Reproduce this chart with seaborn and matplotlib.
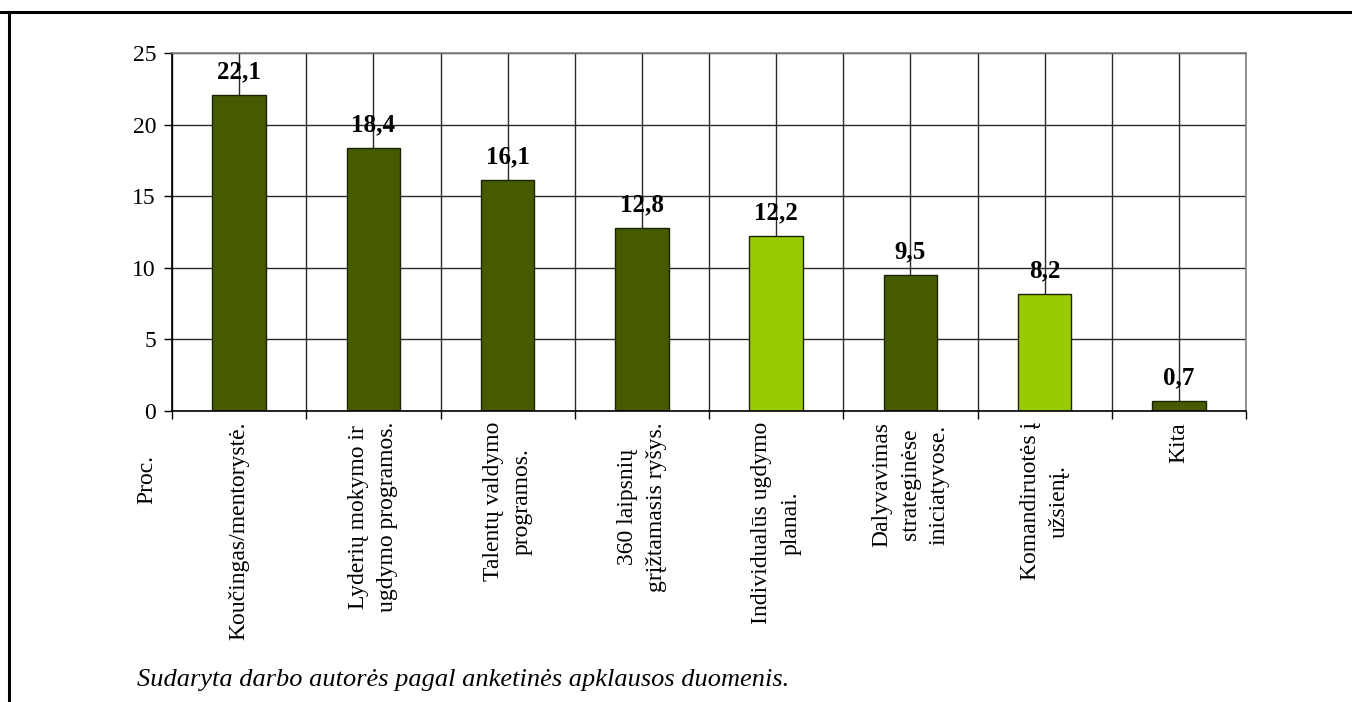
import matplotlib
matplotlib.use("Agg")
import matplotlib.pyplot as plt
from matplotlib.lines import Line2D
from matplotlib.ticker import FixedLocator, MultipleLocator
import seaborn as sns
import pandas as pd

# Survey results: share of respondents (%) per development method
categories = [
    "Koučingas/mentorystė.",
    "Lyderių mokymo ir\nugdymo programos.",
    "Talentų valdymo\nprogramos.",
    "360 laipsnių\ngrįžtamasis ryšys.",
    "Individualūs ugdymo\nplanai.",
    "Dalyvavimas\nstrateginėse\niniciatyvose.",
    "Komandiruotės į\nužsienį.",
    "Kita",
]
values = [22.1, 18.4, 16.1, 12.8, 12.2, 9.5, 8.2, 0.7]
bar_colors = ["#465b00", "#465b00", "#465b00", "#465b00",
              "#99cc00", "#465b00", "#99cc00", "#465b00"]
y_label = "Proc."
source_note = "Sudaryta darbo autorės pagal anketinės apklausos duomenis."

sns.set_theme(style="white")
plt.rcParams["font.family"] = ["Liberation Serif", "DejaVu Serif"]
plt.rcParams.update({"text.color": "black", "xtick.color": "black",
                     "ytick.color": "black", "axes.labelcolor": "black"})

df = pd.DataFrame({"category": categories, "value": values})

W, H = 1352, 702
fig = plt.figure(figsize=(W / 100, H / 100), dpi=100)
fig.patch.set_facecolor("white")
ax = fig.add_axes([172 / W, 1 - 411 / H, (1246 - 172) / W, (411 - 53) / H])

sns.barplot(data=df, x="category", y="value", hue="category",
            palette=bar_colors, legend=False, width=0.4,
            edgecolor="#1a2200", linewidth=1.0, saturation=1, ax=ax)

ax.set_xlim(-0.5, len(categories) - 0.5)
ax.set_ylim(0, 25)
ax.yaxis.set_major_locator(MultipleLocator(5))
ax.set_xlabel("")
ax.set_ylabel("")

# Category boundaries as minor ticks, centres as labelled major ticks
ax.xaxis.set_minor_locator(FixedLocator([i - 0.5 for i in range(len(categories) + 1)]))
ax.set_xticks(range(len(categories)))
ax.set_xticklabels(categories, rotation=90, ha="center", va="top",
                   multialignment="center", linespacing=1.5, fontsize=17)
ax.tick_params(axis="x", which="major", length=0, pad=8)
ax.tick_params(axis="x", which="minor", length=5.5, width=1.0, color="black",
               direction="out", bottom=True)
ax.tick_params(axis="y", which="major", length=5.5, width=1.0, color="black",
               direction="out", left=True, labelsize=17, pad=6)

ax.set_axisbelow(True)
ax.grid(True, axis="y", which="major", color="#2a2a2a", linewidth=1.0)
ax.grid(True, axis="x", which="both", color="#2a2a2a", linewidth=1.0)

for side in ("left", "bottom"):
    ax.spines[side].set_color("black")
    ax.spines[side].set_linewidth(1.2)
for side in ("top", "right"):
    ax.spines[side].set_color("#808080")
    ax.spines[side].set_linewidth(1.2)

for i, v in enumerate(values):
    ax.annotate(f"{v:.1f}".replace(".", ","), xy=(i, v), xytext=(0, 12),
                textcoords="offset points", ha="center", va="baseline",
                fontsize=18, fontweight="bold", color="black")

fig.text(147 / W, 1 - 479 / H, y_label, rotation=90, ha="center", va="center",
         fontsize=17)
fig.text(137 / W, 1 - 686 / H, source_note, ha="left", va="baseline",
         fontsize=19, style="italic")

# Frame lines along the top and left of the figure
fig.add_artist(Line2D([0, 1], [1 - 12 / H, 1 - 12 / H], transform=fig.transFigure,
                      color="black", linewidth=2.2))
fig.add_artist(Line2D([9 / W, 9 / W], [0, 1 - 12 / H], transform=fig.transFigure,
                      color="black", linewidth=2.2))

fig.savefig("out.png", dpi=100, facecolor="white")
